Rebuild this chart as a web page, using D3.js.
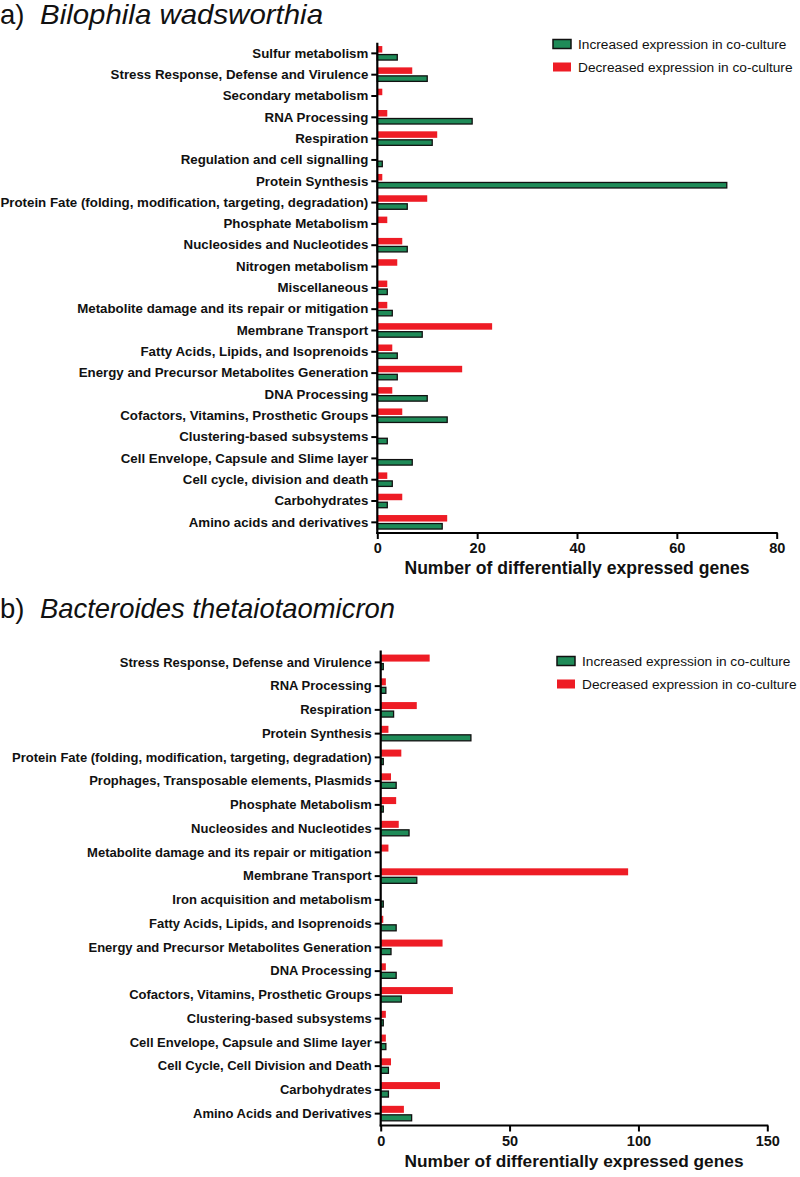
<!DOCTYPE html>
<html><head><meta charset="utf-8">
<script src="https://cdn.jsdelivr.net/npm/d3@7"></script>
<style>
body{margin:0;background:#fff;}
svg{display:block;font-family:"Liberation Sans",Arial,sans-serif;}
</style></head>
<body><svg id="c" width="800" height="1177"></svg>
<script>
const categoriesA = ["Sulfur metabolism","Stress Response, Defense and Virulence","Secondary metabolism","RNA Processing","Respiration","Regulation and cell signalling","Protein Synthesis","Protein Fate (folding, modification, targeting, degradation)","Phosphate Metabolism","Nucleosides and Nucleotides","Nitrogen metabolism","Miscellaneous","Metabolite damage and its repair or mitigation","Membrane Transport","Fatty Acids, Lipids, and Isoprenoids","Energy and Precursor Metabolites Generation","DNA Processing","Cofactors, Vitamins, Prosthetic Groups","Clustering-based subsystems","Cell Envelope, Capsule and Slime layer","Cell cycle, division and death","Carbohydrates","Amino acids and derivatives"];
const increasedA = [4,10,0,19,11,1,70,6,0,6,0,2,3,9,4,4,10,14,2,7,3,2,13];
const decreasedA = [1,7,1,2,12,0,1,10,2,5,4,2,2,23,3,17,3,5,0,0,2,5,14];
const ticksA = [0,20,40,60,80];

const categoriesB = ["Stress Response, Defense and Virulence","RNA Processing","Respiration","Protein Synthesis","Protein Fate (folding, modification, targeting, degradation)","Prophages, Transposable elements, Plasmids","Phosphate Metabolism","Nucleosides and Nucleotides","Metabolite damage and its repair or mitigation","Membrane Transport","Iron acquisition and metabolism","Fatty Acids, Lipids, and Isoprenoids","Energy and Precursor Metabolites Generation","DNA Processing","Cofactors, Vitamins, Prosthetic Groups","Clustering-based subsystems","Cell Envelope, Capsule and Slime layer","Cell Cycle, Cell Division and Death","Carbohydrates","Amino Acids and Derivatives"];
const increasedB = [1,2,5,35,1,6,1,11,0,14,1,6,4,6,8,1,2,3,3,12];
const decreasedB = [19,2,14,3,8,4,6,7,3,96,0,1,24,2,28,2,2,4,23,9];
const ticksB = [0,50,100,150];

const legendLabels = ["Increased expression in co-culture","Decreased expression in co-culture"];
const xTitle = "Number of differentially expressed genes";

const GREEN = "#1f8b58", RED = "#ee1c25";
const svg = d3.select("#c");

function panel(o){
  const g = svg.append("g");
  const x = d3.scaleLinear().domain([0,o.max]).range([o.x0,o.x1]);
  const y = d3.scaleBand().domain(o.cats).range([o.y0,o.y1]).padding(0);
  const bh = o.bh;
  g.selectAll("rect.dec").data(o.cats).enter().append("rect")
    .attr("x", x(0)).attr("y", d=> y(d)+y.bandwidth()/2 - bh - 0.8)
    .attr("width", (d,i)=> Math.max(0, x(o.dec[i]) - x(0)))
    .attr("height", bh).attr("fill", RED);
  g.selectAll("rect.inc").data(o.cats).enter().append("rect")
    .attr("x", x(0)).attr("y", d=> y(d)+y.bandwidth()/2 + 1.2)
    .attr("width", (d,i)=> Math.max(0, x(o.inc[i]) - x(0)))
    .attr("height", (d,i)=> o.inc[i]>0 ? bh-1 : 0)
    .attr("fill", GREEN).attr("stroke","#111").attr("stroke-width",1.3);
  const ya = g.append("g").attr("transform",`translate(${o.x0},0)`)
    .call(d3.axisLeft(y).tickSize(6).tickPadding(3).tickSizeOuter(0));
  ya.select(".domain").attr("stroke","#000").attr("stroke-width",2.2).attr("d",`M0,${o.y0}V${o.y1+1}`);
  ya.selectAll(".tick line").attr("stroke","#000").attr("stroke-width",2);
  ya.selectAll(".tick text").attr("font-size",o.lfs).attr("font-weight","bold").attr("fill","#111");
  const xa = g.append("g").attr("transform",`translate(0,${o.y1})`)
    .call(d3.axisBottom(x).tickValues(o.ticks).tickFormat(d3.format("d")).tickSize(6).tickPadding(4).tickSizeOuter(0));
  xa.select(".domain").attr("stroke","#000").attr("stroke-width",2.2).attr("d",`M${o.x0-1},0H${o.x1+1}`);
  xa.selectAll(".tick line").attr("stroke","#000").attr("stroke-width",2);
  xa.selectAll(".tick text").attr("font-size",14.5).attr("font-weight","bold").attr("fill","#111");
  g.append("text").attr("x",(o.x0+o.x1)/2).attr("y",o.y1+41).attr("text-anchor","middle")
    .attr("font-size",o.tfs).attr("font-weight","bold").attr("fill","#111").text(xTitle);
  const t = g.append("text").attr("x",0).attr("y",o.ty).attr("font-size",27.5).attr("fill","#111");
  t.append("tspan").text(o.letter);
  t.append("tspan").attr("x",40).attr("font-style","italic").attr("textLength",o.tlen)
    .attr("lengthAdjust","spacingAndGlyphs").text(o.species);
  const lg = g.append("g");
  [0,1].forEach(i=>{
    lg.append("rect").attr("x",o.lx).attr("y",o.ly + i*o.lgap - 4.5).attr("width",18).attr("height",9)
      .attr("fill", i===0?GREEN:RED).attr("stroke", i===0?"#111":"none").attr("stroke-width",1.5);
    lg.append("text").attr("x",o.lx+25).attr("y",o.ly + i*o.lgap + 5).attr("font-size",13.7).attr("fill","#111").text(legendLabels[i]);
  });
}

panel({cats:categoriesA, inc:increasedA, dec:decreasedA, max:80, ticks:ticksA,
  x0:377.3, x1:776.7, y0:42.7, y1:533, bh:6.5, lfs:13.3, tfs:17.6,
  letter:"a)", species:"Bilophila wadsworthia", tlen:283, ty:24, lx:553, ly:44, lgap:23});
panel({cats:categoriesB, inc:increasedB, dec:decreasedB, max:150, ticks:ticksB,
  x0:380.7, x1:767.3, y0:650.5, y1:1125.5, bh:7, lfs:13, tfs:17.3,
  letter:"b)", species:"Bacteroides thetaiotaomicron", tlen:355, ty:618, lx:557, ly:661, lgap:23});
</script></body></html>
